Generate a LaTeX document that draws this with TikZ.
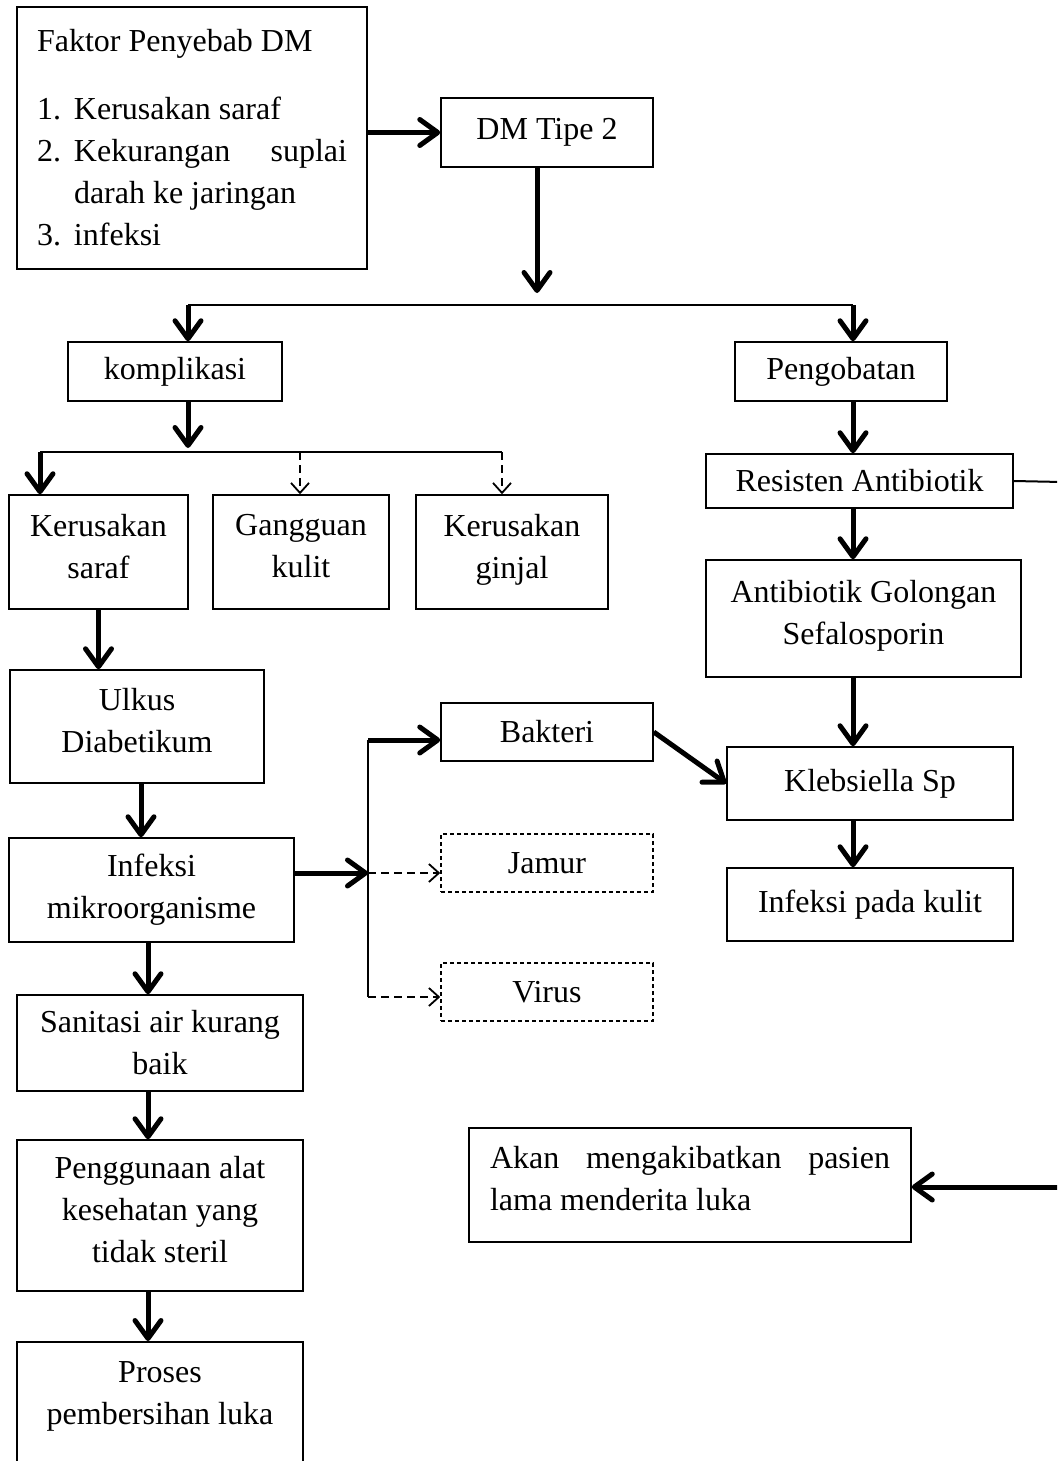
\documentclass[tikz,border=0pt]{standalone}
\usepackage{fontspec}
\setmainfont{Liberation Serif}
\usetikzlibrary{arrows.meta, positioning}

\begin{document}
\begin{tikzpicture}[
    x=0.5pt, y=-0.5pt,
    box/.style = {
        draw,
        line width=0.75pt,
        align=center,
        font=\fontsize{16}{21}\selectfont,
        inner sep=4pt
    },
    lift/.style = {execute at end node={\rule[-6pt]{0pt}{6pt}}},
    dashbox/.style = {box, dash pattern=on 2pt off 1.5pt},
    arrow/.style = {-{Straight Barb[length=9pt, width=13pt, round]}, line width=2.5pt},
    darrow/.style = {-{Straight Barb[length=5pt, width=9pt]}, line width=0.9pt, dash pattern=on 4pt off 2.5pt},
    link/.style = {line width=1pt}
]

\useasboundingbox (0,0) rectangle (1057,1461);
\clip (0,0) rectangle (1057,1461);

%% ── Nodos ──────────────────────────────────────────────────────────────────

\node[box, minimum width=175pt, minimum height=131pt, text width=155pt,
      inner xsep=10pt, align=justify] (faktor) at (192,138)
    {Faktor Penyebab DM\par\vspace{13pt}
     \hangindent=18.5pt\hangafter=1 \makebox[18.5pt][l]{1.}Kerusakan saraf\par
     \hangindent=18.5pt\hangafter=1 \makebox[18.5pt][l]{2.}Kekurangan suplai\linebreak darah ke jaringan\par
     \hangindent=18.5pt\hangafter=1 \makebox[18.5pt][l]{3.}infeksi};

\node[box, minimum width=106pt, minimum height=34.5pt] (dm) at (547,132.5) {DM Tipe 2};

\node[box, minimum width=107pt, minimum height=29.5pt] (komp) at (175,371.5) {komplikasi};
\node[box, minimum width=106pt, minimum height=29.5pt] (peng) at (841,371.5) {Pengobatan};

\node[box, lift, minimum width=89.5pt, minimum height=57pt] (ksaraf) at (98.5,552) {Kerusakan\\saraf};
\node[box, lift, minimum width=88pt,   minimum height=57pt] (kulit)  at (301,552)  {Gangguan\\kulit};
\node[box, lift, minimum width=96pt,   minimum height=57pt] (ginjal) at (512,552)  {Kerusakan\\ginjal};

\node[box, minimum width=153.5pt, minimum height=27pt]         (resisten) at (859.5,481)   {Resisten Antibiotik};
\node[box, lift, minimum width=157.5pt, minimum height=58.5pt] (sefalo)   at (863.5,618.5) {Antibiotik Golongan\\Sefalosporin};
\node[box, minimum width=143pt,   minimum height=36.5pt]       (kleb)     at (870,783.5)   {Klebsiella Sp};
\node[box, minimum width=143pt,   minimum height=36.5pt]       (kulitinf) at (870,904.5)   {Infeksi pada kulit};

\node[box,     minimum width=106pt, minimum height=29pt] (bakteri) at (547,732) {Bakteri};
\node[dashbox, minimum width=106pt, minimum height=29pt] (jamur)   at (547,863) {Jamur};
\node[dashbox, minimum width=106pt, minimum height=29pt] (virus)   at (547,992) {Virus};

\node[box, lift, minimum width=127pt, minimum height=56.5pt] (ulkus)    at (137,726.5)  {Ulkus\\Diabetikum};
\node[box, minimum width=142.5pt, minimum height=52pt]       (infeksi)  at (151.5,890)  {Infeksi\\mikroorganisme};
\node[box, minimum width=143pt,   minimum height=48pt]       (sanitasi) at (160,1043)   {Sanitasi air kurang\\baik};
\node[box, lift, minimum width=143pt, minimum height=75.5pt] (alat)     at (160,1215.5) {Penggunaan alat\\kesehatan yang\\tidak steril};
\node[box, minimum width=143pt, anchor=north, inner ysep=10pt, text depth=40pt]
    (proses) at (160,1341) {Proses\\pembersihan luka};

\node[box, minimum width=221pt, minimum height=57pt, text width=200pt,
      inner xsep=10.5pt, align=justify] (akan) at (690,1185)
    {Akan mengakibatkan pasien\linebreak lama menderita luka\rule[-7pt]{0pt}{7pt}};

%% ── Puntos de unión ─────────────────────────────────────────────────────────

\coordinate (brL) at (188,305);
\coordinate (brM) at (537,305);
\coordinate (brR) at (853,305);

\coordinate (kL) at (40,452);
\coordinate (kM) at (188,452);
\coordinate (kC) at (300,452);
\coordinate (kR) at (502,452);

\coordinate (mTop) at (368,740);
\coordinate (mMid) at (368,873);
\coordinate (mBot) at (368,997);

\coordinate (edgeA) at (1062,482);
\coordinate (edgeB) at (1062,1187);

%% ── Flechas ─────────────────────────────────────────────────────────────────

\draw[arrow] (faktor.east |- dm.west) -- (dm.west);
\draw[arrow] (dm.south -| brM) -- ([yshift=6pt]brM);

\draw[link]  (brL) -- (brR);
\draw[arrow] (brL) -- (brL |- komp.north);
\draw[arrow] (brR) -- (brR |- peng.north);

\draw[arrow]  (komp.south -| kM) -- ([yshift=2pt]kM);
\draw[link]   (kL) -- (kR);
\draw[arrow]  (kL) -- (kL |- ksaraf.north);
\draw[darrow] (kC) -- (kC |- kulit.north);
\draw[darrow] (kR) -- (kR |- ginjal.north);

\draw[arrow] (peng.south -| brR)     -- (brR |- resisten.north);
\draw[arrow] (resisten.south -| brR) -- (brR |- sefalo.north);
\draw[arrow] (sefalo.south -| brR)   -- (brR |- kleb.north);
\draw[arrow] (kleb.south -| brR)     -- (brR |- kulitinf.north);

\draw[link]  (resisten.east) -- (edgeA) -- (edgeB);
\draw[arrow] (edgeB) -- (akan.east |- edgeB);

\draw[arrow] (ksaraf.south) -- (ksaraf.south |- ulkus.north);
\draw[arrow] (ulkus.south -| 141,0) -- (infeksi.north -| 141,0);

\draw[arrow]  (infeksi.east |- mMid) -- (mMid);
\draw[link]   (mTop) -- (mBot);
\draw[arrow]  (mTop) -- (mTop -| bakteri.west);
\draw[darrow] (mMid) -- (mMid -| jamur.west);
\draw[darrow] (mBot) -- (mBot -| virus.west);
\draw[arrow]  (bakteri.east) -- (kleb.west);

\draw[arrow] (infeksi.south -| 148,0)  -- (sanitasi.north -| 148,0);
\draw[arrow] (sanitasi.south -| 148,0) -- (alat.north -| 148,0);
\draw[arrow] (alat.south -| 148,0)     -- (proses.north -| 148,0);

\end{tikzpicture}
\end{document}
